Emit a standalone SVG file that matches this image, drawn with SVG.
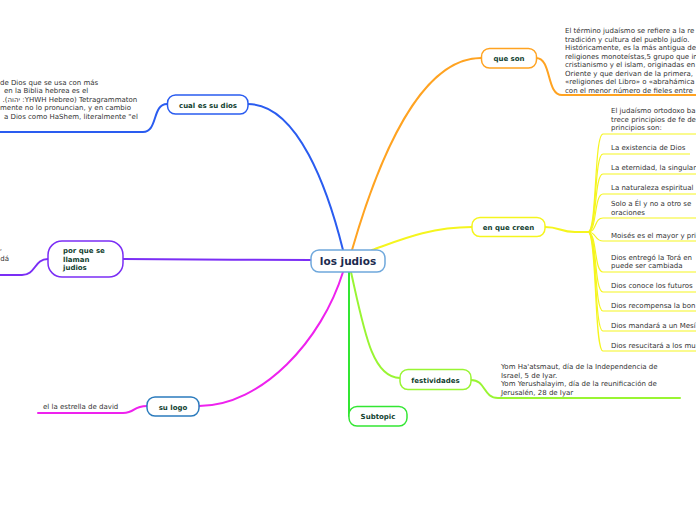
<svg xmlns="http://www.w3.org/2000/svg" width="696" height="520" viewBox="0 0 696 520">
<style>
.bg{fill:#ffffff}
.node{fill:#ffffff;stroke-width:1.5}
.lbl{font-family:"DejaVu Sans",Verdana,sans-serif;font-size:7px;font-weight:bold;fill:#123f30}
.ctr{font-family:"DejaVu Sans",Verdana,sans-serif;font-size:10.5px;font-weight:bold;fill:#1b2a4e}
.txt{font-family:"DejaVu Sans",Verdana,sans-serif;font-size:7px;fill:#333333}
.c{fill:none;stroke-linecap:round}
</style>
<rect class="bg" x="0" y="0" width="696" height="520"/>
<g id="connectors">
  <path class="c" d="M343,250 C328,190 298,104 248,104" stroke="#2a5cf0" stroke-width="2"/>
  <path class="c" d="M352,250 C378,160 420,58 481,58" stroke="#ffa321" stroke-width="2"/>
  <path class="c" d="M372,250 C400,240 430,227 472,227" stroke="#f5f51e" stroke-width="2"/>
  <path class="c" d="M311,260 C250,260 180,259 123,259" stroke="#7b2ef5" stroke-width="2"/>
  <path class="c" d="M343,272 C322,340 262,406 199,406" stroke="#ee22ee" stroke-width="2"/>
  <path class="c" d="M351,272 C364,330 372,378 400,378" stroke="#99f533" stroke-width="2"/>
  <path class="c" d="M349,272 L349,416" stroke="#33e633" stroke-width="2"/>
  <path class="c" d="M167,104 C152,104 158,132 143,132 L0,132" stroke="#2a5cf0" stroke-width="2"/>
  <path class="c" d="M536,58 C552,58 546,95 562,95 L696,95" stroke="#ffa321" stroke-width="2"/>
  <path class="c" d="M48,259 C34,259 36,275 22,275 L0,275" stroke="#7b2ef5" stroke-width="2"/>
  <path class="c" d="M147,406 C132,406 136,413 123,413 L38,413" stroke="#ee22ee" stroke-width="2"/>
  <path class="c" d="M471,380 C486,380 483,398 498,398 L680,398" stroke="#99f533" stroke-width="2"/>
  <path class="c" d="M545,227 C560,227 560,232 575,232 L588,232" stroke="#f5f51e" stroke-width="2"/>
  <g stroke="#f5f51e" stroke-width="1.2" fill="none">
    <path d="M588,232 C597,232 594,134 603,134 L696,134"/>
    <path d="M588,232 C597,232 594,154 603,154 L690,154"/>
    <path d="M588,232 C597,232 594,174 603,174 L696,174"/>
    <path d="M588,232 C597,232 594,194 603,194 L696,194"/>
    <path d="M588,232 C597,232 594,218 603,218 L696,218"/>
    <path d="M588,232 C597,232 594,241 603,241 L696,241"/>
    <path d="M588,232 C597,232 594,272 603,272 L696,272"/>
    <path d="M588,232 C597,232 594,292 603,292 L696,292"/>
    <path d="M588,232 C597,232 594,311 603,311 L696,311"/>
    <path d="M588,232 C597,232 594,331 603,331 L696,331"/>
    <path d="M588,232 C597,232 594,351 603,351 L696,351"/>
  </g>
</g>
<g id="n-center">
  <rect class="node" x="311" y="250" width="74" height="22" rx="8" stroke="#6fa8dc"/>
  <text class="ctr" x="348" y="265" text-anchor="middle">los judios</text>
</g>
<g id="n-queson">
  <rect class="node" x="481.5" y="48.5" width="55" height="19.5" rx="8" stroke="#ffa321"/>
  <text class="lbl" x="509" y="61" text-anchor="middle">que son</text>
</g>
<g id="n-queson-text">
  <text class="txt" x="565" y="33">El término judaísmo se refiere a la re</text>
  <text class="txt" x="565" y="41.5">tradición y cultura del pueblo judío.</text>
  <text class="txt" x="565" y="50">Históricamente, es la más antigua de</text>
  <text class="txt" x="565" y="58.5">religiones monoteístas,5 grupo que in</text>
  <text class="txt" x="565" y="67">cristianismo y el islam, originadas en</text>
  <text class="txt" x="565" y="75.5">Oriente y que derivan de la primera,</text>
  <text class="txt" x="565" y="84">«religiones del Libro» o «abrahámica</text>
  <text class="txt" x="565" y="92.5">con el menor número de fieles entre</text>
</g>
<g id="n-dios">
  <rect class="node" x="167.5" y="95" width="80.5" height="19" rx="8" stroke="#2a5cf0"/>
  <text class="lbl" x="208" y="107.5" text-anchor="middle">cual es su dios</text>
</g>
<g id="n-dios-text">
  <text class="txt" x="0" y="84.5">de Dios que se usa con más</text>
  <text class="txt" x="4" y="93">en la Biblia hebrea es el</text>
  <text class="txt" x="2.5" y="101.5">.(יהוה :YHWH Hebreo) Tetragrammaton</text>
  <text class="txt" x="0" y="110">mente no lo pronuncian, y en cambio</text>
  <text class="txt" x="4" y="118.5">a Dios como HaShem, literalmente "el</text>
</g>
<g id="n-creen">
  <rect class="node" x="472" y="217.5" width="73" height="19" rx="8" stroke="#f5f51e"/>
  <text class="lbl" x="508.5" y="230" text-anchor="middle">en que creen</text>
</g>
<g id="n-creen-items">
  <text class="txt" x="611" y="113">El judaísmo ortodoxo ba</text>
  <text class="txt" x="611" y="121.5">trece principios de fe de</text>
  <text class="txt" x="611" y="130">principios son:</text>
  <text class="txt" x="611" y="150">La existencia de Dios</text>
  <text class="txt" x="611" y="170">La eternidad, la singular</text>
  <text class="txt" x="611" y="190">La naturaleza espiritual</text>
  <text class="txt" x="611" y="206">Solo a Él y no a otro se</text>
  <text class="txt" x="611" y="214.5">oraciones</text>
  <text class="txt" x="611" y="237.5">Moisés es el mayor y pri</text>
  <text class="txt" x="611" y="259.5">Dios entregó la Torá en</text>
  <text class="txt" x="611" y="268">puede ser cambiada</text>
  <text class="txt" x="611" y="288">Dios conoce los futuros</text>
  <text class="txt" x="611" y="307.5">Dios recompensa la bon</text>
  <text class="txt" x="611" y="327.5">Dios mandará a un Mesí</text>
  <text class="txt" x="611" y="347.5">Dios resucitará a los mu</text>
</g>
<g id="n-porque">
  <rect class="node" x="48" y="241" width="75" height="36" rx="14" stroke="#7b2ef5"/>
  <text class="lbl" x="63" y="253">por que se</text>
  <text class="lbl" x="63" y="261.5">llaman</text>
  <text class="lbl" x="63" y="270">judios</text>
</g>
<g id="n-porque-text">
  <text class="txt" x="2" y="250" text-anchor="end">,</text>
  <text class="txt" x="9" y="261" text-anchor="end">dá</text>
</g>
<g id="n-fest">
  <rect class="node" x="400" y="369.5" width="71" height="20" rx="8" stroke="#99f533"/>
  <text class="lbl" x="435.5" y="382.5" text-anchor="middle">festividades</text>
</g>
<g id="n-fest-text">
  <text class="txt" x="501" y="369">Yom Ha'atsmaut, día de la Independencia de</text>
  <text class="txt" x="501" y="377.5">Israel, 5 de Iyar.</text>
  <text class="txt" x="501" y="386">Yom Yerushalayim, día de la reunificación de</text>
  <text class="txt" x="501" y="394.5">Jerusalén, 28 de Iyar</text>
</g>
<g id="n-subtopic">
  <rect class="node" x="349" y="406.5" width="58" height="19.5" rx="8" stroke="#33e633"/>
  <text class="lbl" x="378" y="419" text-anchor="middle">Subtopic</text>
</g>
<g id="n-logo">
  <rect class="node" x="147" y="397" width="52" height="19" rx="8" stroke="#2b7bbd"/>
  <text class="lbl" x="173" y="409.5" text-anchor="middle">su logo</text>
</g>
<g id="n-logo-text">
  <text class="txt" x="43" y="408.5">el la estrella de david</text>
</g>
</svg>
